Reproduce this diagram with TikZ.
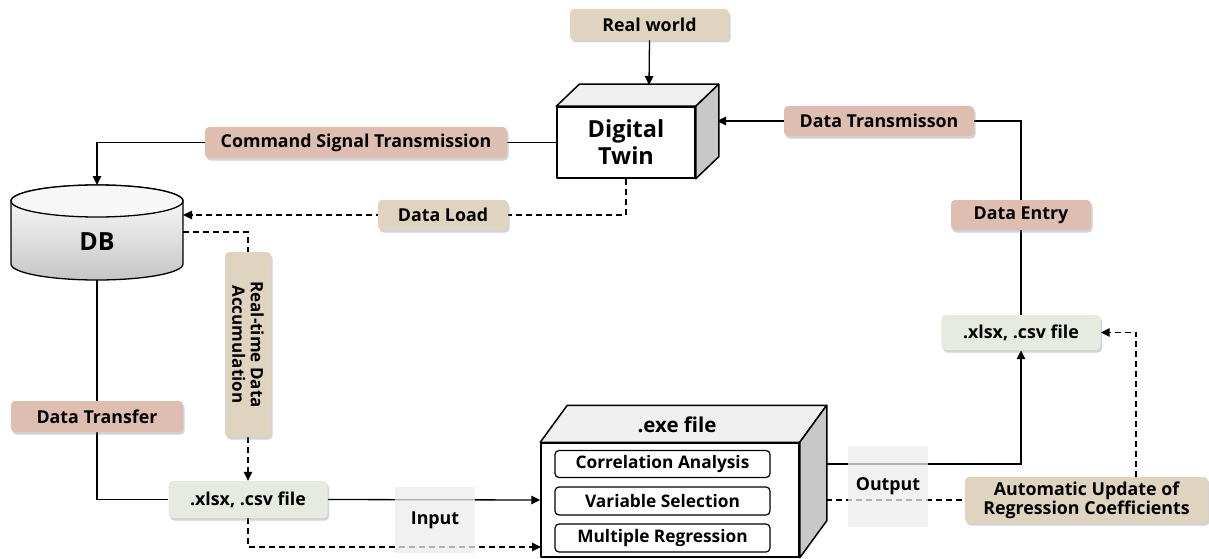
\documentclass[tikz,border=0pt]{standalone}
\usepackage{fontspec}
\setmainfont{Open Sans}
\usetikzlibrary{arrows.meta,shadows,calc}
\pgfdeclarelayer{bg}
\pgfsetlayers{bg,main}
\definecolor{tanfill}{RGB}{222,212,192}
\definecolor{pinkfill}{RGB}{223,190,178}
\definecolor{filefill}{RGB}{231,234,225}
\definecolor{areafill}{RGB}{236,236,236}
\definecolor{sideface}{RGB}{200,200,200}
\definecolor{topface}{RGB}{240,240,240}
\tikzset{
  tag/.style={rounded corners=4pt, inner sep=0pt, font=\fontsize{17.8}{20}\selectfont\bfseries,
    drop shadow={shadow xshift=1.5pt, shadow yshift=-2.5pt, opacity=0.35}},
  tantag/.style={tag, fill=tanfill},
  pinktag/.style={tag, fill=pinkfill},
  filetag/.style={tag, fill=filefill},
  areatag/.style={fill=areafill, fill opacity=0.75, text opacity=1, inner sep=0pt,
    font=\fontsize{17.8}{20}\selectfont\bfseries},
  stepbox/.style={draw, line width=1.2pt, rounded corners=4pt, fill=white, inner sep=0pt,
    minimum width=215pt, minimum height=27pt, font=\fontsize{17.3}{20}\selectfont\bfseries},
  conn/.style={line width=1.3pt},
  arr/.style={conn, -{Triangle[length=9pt,width=8.5pt]}},
  dsh/.style={conn, dash pattern=on 6pt off 4pt},
  darr/.style={dsh, -{Triangle[length=9pt,width=8.5pt]}},
  face/.style={draw, line width=1.5pt, line join=round},
}
\begin{document}
\begin{tikzpicture}[x=1pt,y=-1pt]
\useasboundingbox (0,0) rectangle (1209,559);

% ---------- Database cylinder ----------
\shade[top color=white, bottom color=gray!45, draw, line width=1.3pt]
  (11,201) -- (11,264) arc[start angle=180, end angle=360, x radius=86pt, y radius=16pt]
  -- (183,201) arc[start angle=0, end angle=180, x radius=86pt, y radius=16pt] -- cycle;
\draw[line width=1.3pt, fill=gray!6] (97,201) ellipse[x radius=86pt, y radius=16pt];
\node (db) at (97,242) {\fontsize{25}{30}\selectfont\bfseries DB};
\coordinate (dbtop) at (97,185);
\coordinate (dbload) at (183,215);
\coordinate (dbacc) at (183,232);
\coordinate (dbbot) at (97,280);

% ---------- Digital twin block ----------
\node[face, fill=white, minimum width=138pt, minimum height=71pt, inner sep=0pt, align=center,
      font=\fontsize{23.5}{27}\selectfont\bfseries] (dt) at (626,142.5) {Digital\\Twin};
\fill[topface] (dt.north west) -- (dt.north east) -- ++(23,-22) -- ($(dt.north west)+(23,-22)$) -- cycle;
\draw[face] (dt.north west) -- (dt.north east) -- ++(23,-22) -- ($(dt.north west)+(23,-22)$) -- cycle;
\draw[face, fill=sideface] (dt.north east) -- ++(23,-22) -- ($(dt.south east)+(23,-22)$) -- (dt.south east) -- cycle;
\coordinate (dttop) at (649,85);
\coordinate (dtright) at (717,121);

% ---------- Executable block ----------
\node[face, fill=white, minimum width=258pt, minimum height=114pt, inner sep=0pt] (exe) at (670,500) {};
\draw[face, fill=topface] (exe.north west) -- (exe.north east) -- ++(27,-37) -- ($(exe.north west)+(27,-37)$) -- cycle;
\draw[face, fill=sideface] (exe.north east) -- ++(27,-37) -- ($(exe.south east)+(27,-37)$) -- (exe.south east) -- cycle;
\node[font=\fontsize{20.5}{24}\selectfont\bfseries] (exetitle) at (677,425) {.exe file};
\node[stepbox] (ca) at (662.5,464) {Correlation Analysis};
\node[stepbox, minimum height=28pt] (vs) at (662.5,501) {Variable Selection};
\node[stepbox, minimum height=28pt] (mr) at (662.5,538) {Multiple Regression};
\coordinate (exein2) at (541,547);
\coordinate (exeout) at (826,464);
\coordinate (exeout2) at (826,500);

% ---------- Labels ----------
\node[tantag, minimum width=159pt, minimum height=31pt] (rw) at (649.5,24.5) {Real world};
\node[pinktag, minimum width=302pt, minimum height=31pt] (cmd) at (356,142.5) {Command Signal Transmission};
\node[tantag, minimum width=130pt, minimum height=30pt] (dl) at (443,215) {Data Load};
\node[pinktag, minimum width=190pt, minimum height=30pt] (dtx) at (879,121) {Data Transmisson};
\node[pinktag, minimum width=140pt, minimum height=30pt] (de) at (1021,215) {Data Entry};
\node[filetag, minimum width=159pt, minimum height=35pt] (fr) at (1021,332.5) {.xlsx, .csv file};
\node[tantag, rotate=-90, minimum width=185pt, minimum height=46pt, align=center,
      font=\fontsize{17}{18.5}\selectfont\bfseries] (rt) at (248,344.5) {Real-time Data\\Accumulation};
\node[pinktag, minimum width=172pt, minimum height=31pt] (dtf) at (97,416.5) {Data Transfer};
\node[filetag, minimum width=159pt, minimum height=37pt] (fl) at (248,499.5) {.xlsx, .csv file};
\node[tantag, minimum width=243pt, minimum height=46pt, align=center,
      font=\fontsize{17.8}{19}\selectfont\bfseries] (au) at (1086.5,500) {Automatic Update of\\Regression Coefficients};
\coordinate (aut) at (1136,477);
\node[areatag, minimum width=80pt, minimum height=66pt] (inp) at (435,520) {Input};
\node[areatag, minimum width=80pt, minimum height=81pt] (outp) at (888,486) {Output};

% ---------- Connectors ----------
\begin{pgfonlayer}{bg}
\draw[arr] (rw.south) -- (dttop);
\draw[arr] (dt.west) -| (dbtop);
\draw[darr] (dt.south) |- (dbload);
\draw[dsh] (dbacc) -| (rt.west);
\draw[darr] (rt.east) -- (fl.north);
\draw[conn] (dbbot) |- (fl.west);
\draw[arr] (fl.east) -- (exe.west);
\draw[darr] (fl.south) |- (exein2);
\draw[arr] (exeout) -| (fr.south);
\draw[dsh] (exeout2) -- (au.west);
\draw[darr] (aut) |- (fr.east);
\draw[arr] (fr.north) |- (dtright);
\end{pgfonlayer}
\end{tikzpicture}
\end{document}
